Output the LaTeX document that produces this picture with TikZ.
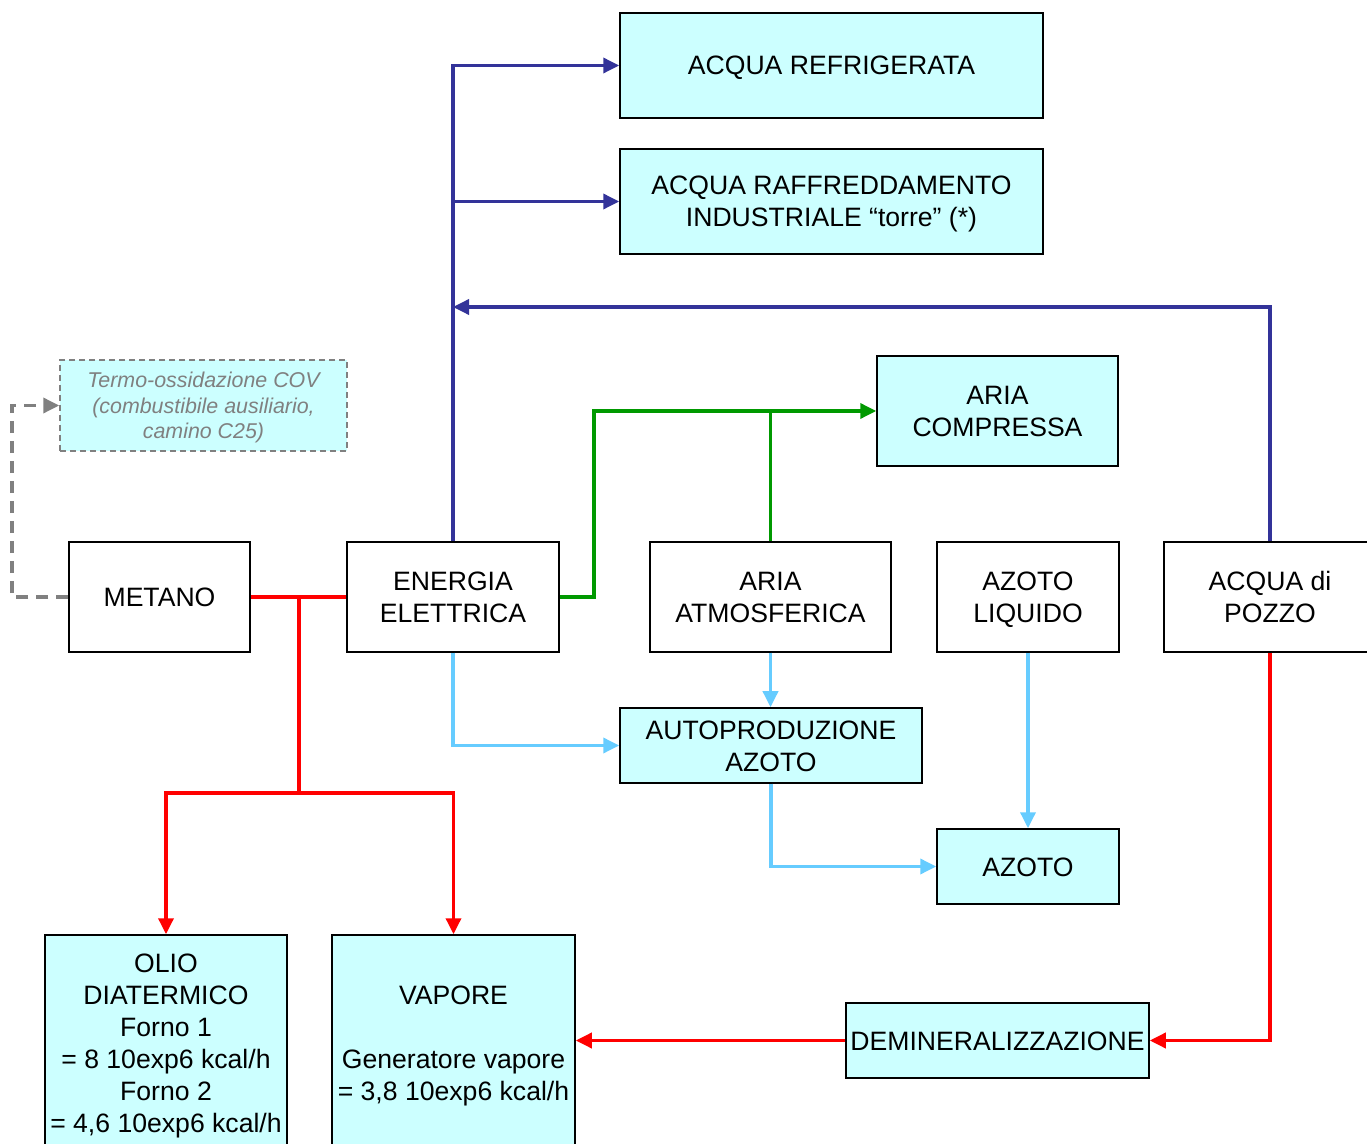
\documentclass[tikz,border=0pt]{standalone}
\usepackage{fontspec}
\setmainfont{Liberation Sans}
\usetikzlibrary{arrows.meta,calc}
\definecolor{boxfill}{HTML}{CCFFFF}
\definecolor{navyl}{HTML}{333399}
\definecolor{grnl}{HTML}{009900}
\definecolor{lbluel}{HTML}{66CCFF}
\definecolor{redl}{HTML}{FF0000}
\definecolor{grayl}{HTML}{808080}
\newcommand\bstrx{\rule[-3.25pt]{0pt}{16pt}}
\newcommand\sstrx{\rule[-2.55pt]{0pt}{12.75pt}}
\begin{document}
\begin{tikzpicture}[x=0.5pt,y=-0.5pt,
  bx/.style={draw=black, line width=0.75pt, inner sep=0pt, align=center,
    font=\fontsize{13.3}{16}\selectfont,
    execute at end node=\bstrx},
  cy/.style={bx, fill=boxfill},
  wh/.style={bx, fill=white},
  conn/.style={line width=1.75pt, -{Triangle[length=8pt,width=7.5pt]}},
  seg/.style={line width=1.75pt}]
\useasboundingbox (0,0) rectangle (1367,1144);

% nodes
\node[cy, minimum width=211.5pt, minimum height=52.5pt] (refr) at (831.5,65.5) {\bstrx ACQUA REFRIGERATA};
\node[cy, minimum width=211.5pt, minimum height=52.5pt] (raff) at (831.5,201.5) {\bstrx ACQUA RAFFREDDAMENTO\\INDUSTRIALE “torre” (*)};
\node[cy, minimum width=120.5pt, minimum height=55pt] (comp) at (997.5,411) {\bstrx ARIA\\COMPRESSA};
\node[draw=grayl, dash pattern=on 3pt off 2pt, line width=0.75pt, fill=boxfill, inner sep=0pt, align=center,
  minimum width=143.5pt, minimum height=45.5pt, text=grayl,
  font=\fontsize{10.7}{12.75}\selectfont\itshape,
  execute at end node=\sstrx] (termo) at (203.5,405.5)
  {\sstrx Termo-ossidazione COV\\(combustibile ausiliario,\\camino C25)};
\node[wh, minimum width=90.5pt, minimum height=55pt] (met) at (159.5,597) {\bstrx METANO};
\node[wh, minimum width=106pt, minimum height=55pt] (en) at (453,597) {\bstrx ENERGIA\\ELETTRICA};
\node[wh, minimum width=120.5pt, minimum height=55pt] (atm) at (770.5,597) {\bstrx ARIA\\ATMOSFERICA};
\node[wh, minimum width=91pt, minimum height=55pt] (azl) at (1028,597) {\bstrx AZOTO\\LIQUIDO};
\node[wh, minimum width=106pt, minimum height=55pt] (pz) at (1270,597) {\bstrx ACQUA di\\POZZO};
\node[cy, minimum width=151pt, minimum height=37.5pt] (auto) at (771,745.5) {\bstrx AUTOPRODUZIONE\\AZOTO};
\node[cy, minimum width=91pt, minimum height=37.5pt] (az) at (1028,866.5) {\bstrx AZOTO};
\node[cy, minimum width=121pt, minimum height=107.5pt] (olio) at (166,1042.5)
  {\bstrx OLIO\\DIATERMICO\\Forno 1\\= 8 10exp6 kcal/h\\Forno 2\\= 4,6 10exp6 kcal/h};
\node[cy, minimum width=121.5pt, minimum height=107.5pt] (vap) at (453.5,1042.5)
  {\bstrx VAPORE\\[16pt]Generatore vapore\\= 3,8 10exp6 kcal/h};
\node[cy, minimum width=151.5pt, minimum height=37.5pt] (demi) at (997.5,1040.5) {\bstrx DEMINERALIZZAZIONE};

% coordinates
\coordinate (bj) at (453,307);
\coordinate (gk) at (594,597);
\coordinate (rb) at (299,597);
\coordinate (rj) at (299,793);
\coordinate (gl) at (12,597);

% blue
\draw[conn, navyl] (en.north) |- (refr.west);
\draw[conn, navyl] (en.north |- raff.west) -- (raff.west);
\draw[conn, navyl] (pz.north) |- (bj);

% green
\draw[conn, grnl] (en.east) -- (gk) |- (comp.west);
\draw[seg, grnl] (atm.north) -- (atm.north |- comp.west);

% light blue
\draw[conn, lbluel] (en.south) |- (auto.west);
\draw[conn, lbluel] (atm.south) -- (atm.south |- auto.north);
\draw[conn, lbluel] (azl.south) -- (az.north);
\draw[conn, lbluel] (auto.south) |- (az.west);

% red
\draw[seg, redl] (met.east) -- (en.west);
\draw[seg, redl] (rb) -- (rj);
\draw[conn, redl] (rj) -| (olio.north);
\draw[conn, redl] (rj) -| (vap.north);
\draw[conn, redl] (pz.south) |- (demi.east);
\draw[conn, redl] (demi.west) -- (demi.west -| vap.east);

% gray dashed
\draw[conn, grayl, dash pattern=on 6pt off 4pt] (met.west) -- (gl) |- (termo.west);
\end{tikzpicture}
\end{document}
